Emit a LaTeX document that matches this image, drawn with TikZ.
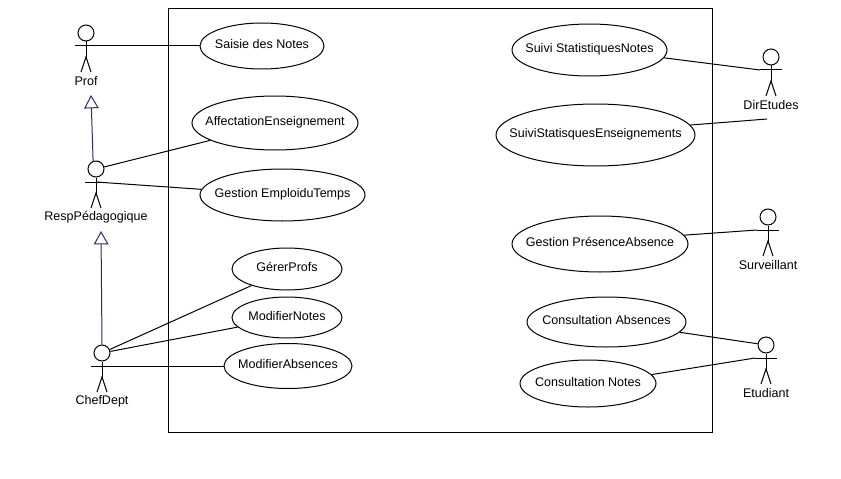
\documentclass[tikz,border=0pt]{standalone}
\usepackage{fontspec}
\setmainfont{Liberation Sans}
\usetikzlibrary{shapes.geometric, arrows.meta}
\definecolor{gennavy}{RGB}{40,40,130}
\tikzstyle{usecase} = [ellipse, inner sep=0pt, text centered, draw=black, line width=0.75pt, font=\fontsize{9.4}{11}\selectfont]
\tikzstyle{actorhead} = [circle, inner sep=0pt, minimum size=12pt, draw=black, line width=0.75pt]
\tikzstyle{actorname} = [inner sep=0pt, font=\fontsize{9.4}{11}\selectfont]
\tikzstyle{stick} = [black, line width=0.75pt]
\tikzstyle{assoc} = [black, line width=0.75pt]
\tikzstyle{gen} = [gennavy, line width=0.75pt, -{Triangle[open, length=10pt, width=11pt]}]
% text of a use case: does not widen the ellipse, sits a little above its middle
\newcommand{\uctext}[1]{\makebox[0pt]{\raisebox{3pt}{#1}}}
% name, x, y of the head, printed name
\newcommand{\actorman}[4]{
\node (#1) [actorhead] at (#2,#3) {};
\coordinate (#1arm) at (#2,#3+13);
\coordinate (#1armL) at (#2-11,#3+13);
\coordinate (#1armR) at (#2+11,#3+13);
\coordinate (#1hip) at (#2,#3+24);
\coordinate (#1legL) at (#2-5,#3+39);
\coordinate (#1legR) at (#2+5,#3+39);
\node (#1name) [actorname] at (#2,#3+48) {#4};
\draw [stick] (#1) -- (#1hip);
\draw [stick] (#1armL) -- (#1armR);
\draw [stick] (#1legL) -- (#1hip) -- (#1legR);
}

\begin{document}
\begin{tikzpicture}[x=0.75pt, y=-0.75pt]
\useasboundingbox (0,0) rectangle (841,478);
\node (frame) [draw=black, line width=0.75pt, inner sep=0pt, minimum width=408pt, minimum height=317.25pt] at (440,220.5) {};

\actorman{prof}{86}{33}{Prof}
\actorman{resp}{96}{169}{RespPédagogique}
\actorman{chef}{102}{353}{ChefDept}
\actorman{dir}{771}{57}{DirEtudes}
\actorman{surv}{768}{217}{Surveillant}
\actorman{etud}{766}{345}{Etudiant}

\node (saisie) [usecase, minimum width=93pt, minimum height=34.5pt] at (262,46) {\uctext{Saisie des Notes}};
\node (affect) [usecase, minimum width=124.5pt, minimum height=40.5pt] at (275,123) {\uctext{AffectationEnseignement}};
\node (emploi) [usecase, minimum width=123.75pt, minimum height=39pt] at (282.5,195) {\uctext{Gestion EmploiduTemps}};
\node (gerer) [usecase, minimum width=82.5pt, minimum height=31.5pt] at (287,269) {\uctext{GérerProfs}};
\node (modnotes) [usecase, minimum width=82.5pt, minimum height=30.75pt] at (287,317.5) {\uctext{ModifierNotes}};
\node (modabs) [usecase, minimum width=96pt, minimum height=33.75pt] at (288,366) {\uctext{ModifierAbsences}};
\node (suivinotes) [usecase, minimum width=116.25pt, minimum height=39pt] at (589.5,50) {\uctext{Suivi StatistiquesNotes}};
\node (suiviens) [usecase, minimum width=149.25pt, minimum height=46.5pt] at (595.5,135) {\uctext{SuiviStatisquesEnseignements}};
\node (presence) [usecase, minimum width=132pt, minimum height=42pt] at (600,244) {\uctext{Gestion PrésenceAbsence}};
\node (consabs) [usecase, minimum width=119.25pt, minimum height=37.5pt] at (606.5,322) {\uctext{Consultation Absences}};
\node (consnotes) [usecase, minimum width=102pt, minimum height=35.25pt] at (588,383.5) {\uctext{Consultation Notes}};

\coordinate (dirfree) at (767,119);
\coordinate (profgen) at (91,95);
\coordinate (respgen) at (101,231);

\draw [assoc] (profarm) -- (saisie.west);
\draw [assoc] (resp) -- (affect.195);
\draw [assoc] (resparm) -- (emploi.176);
\draw [assoc] (chef) -- (gerer.205);
\draw [assoc] (chef) -- (modnotes.191);
\draw [assoc] (chefarm) -- (modabs.west);
\draw [assoc] (suivinotes.-6) -- (dirarmL);
\draw [assoc] (suiviens.6) -- (dirfree);
\draw [assoc] (presence.6) -- (survarmL);
\draw [assoc] (consabs.-8) -- (etud);
\draw [assoc] (consnotes.8) -- (etudarmL);
\draw [gen] (resp.110) -- (profgen);
\draw [gen] (chef.north) -- (respgen);
\end{tikzpicture}
\end{document}
